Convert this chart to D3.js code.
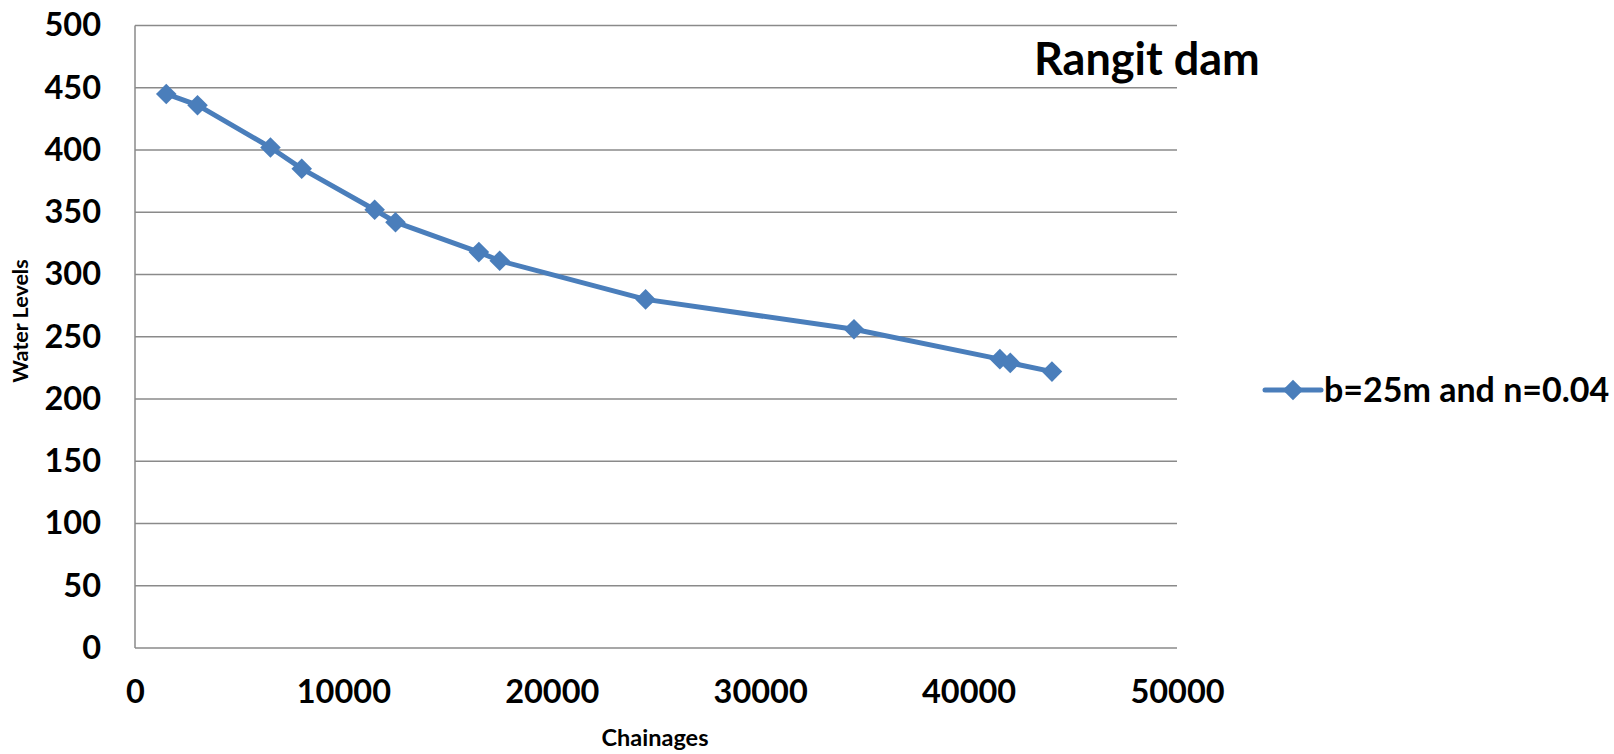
<!DOCTYPE html>
<html>
  <head>
    <meta charset="utf-8" />
    <script src="https://d3js.org/d3.v7.min.js"></script>
    <style>
      body { margin: 0; background: #fff; }
      svg text { font-family: Lato, "Open Sans", sans-serif; font-weight: 700; fill: #000; }
      .grid line { stroke: #8a8a8a; stroke-width: 1.5px; }
      .axis path, .axis line { display: none; }
      .axis text { font-size: 32.5px; }
    </style>
  </head>
  <body>
    <svg id="chart" width="1614" height="754"></svg>
    <script>
      // chainage (m) and water level
      const chainages = [1500, 3000, 6500, 8000, 11500, 12500, 16500, 17500, 24500, 34500, 41500, 42000, 44000];
      const levels = [445, 436, 402, 385, 352, 342, 318, 311, 280, 256, 232, 229, 222];
      const xTicks = [0, 10000, 20000, 30000, 40000, 50000];
      const yTicks = [0, 50, 100, 150, 200, 250, 300, 350, 400, 450, 500];
      const seriesName = "b=25m and n=0.04";

      const svg = d3.select("#chart");
      const plotLeft = 135, plotRight = 1177, plotTop = 25.5, plotBottom = 648;
      const blue = "#4a7ebb";

      const x = d3.scaleLinear().domain([0, 50000]).range([plotLeft, plotRight]);
      const y = d3.scaleLinear().domain([0, 500]).range([plotBottom, plotTop]);

      // horizontal gridlines
      svg.append("g")
        .attr("class", "grid")
        .selectAll("line")
        .data(yTicks)
        .join("line")
        .attr("x1", plotLeft)
        .attr("x2", plotRight)
        .attr("y1", (d) => y(d))
        .attr("y2", (d) => y(d));

      // vertical axis line
      svg.append("line")
        .attr("x1", plotLeft).attr("x2", plotLeft)
        .attr("y1", plotTop).attr("y2", plotBottom)
        .attr("stroke", "#8a8a8a").attr("stroke-width", 1.5);

      svg.append("g")
        .attr("class", "axis")
        .attr("transform", `translate(${plotLeft},0)`)
        .call(d3.axisLeft(y).tickValues(yTicks).tickSize(0).tickPadding(34));

      svg.append("g")
        .attr("class", "axis")
        .attr("transform", `translate(0,${plotBottom})`)
        .call(d3.axisBottom(x).tickValues(xTicks).tickSize(0).tickPadding(32).tickFormat(d3.format("d")));

      // axis titles
      svg.append("text")
        .text("Water Levels")
        .attr("font-size", 21.5)
        .attr("text-anchor", "middle")
        .attr("transform", "translate(28,321) rotate(-90)");
      svg.append("text")
        .text("Chainages")
        .attr("font-size", 23.5)
        .attr("text-anchor", "middle")
        .attr("x", 655)
        .attr("y", 746);

      // title
      svg.append("text")
        .text("Rangit dam")
        .attr("font-size", 45)
        .attr("x", 1034)
        .attr("y", 75);

      const pts = chainages.map((c, i) => [c, levels[i]]);
      const diamond = d3.symbol().type(d3.symbolDiamond2).size(270);

      svg.append("path")
        .datum(pts)
        .attr("fill", "none")
        .attr("stroke", blue)
        .attr("stroke-width", 5)
        .attr("stroke-linejoin", "round")
        .attr("d", d3.line().x((d) => x(d[0])).y((d) => y(d[1])));

      svg.append("g")
        .selectAll("path")
        .data(pts)
        .join("path")
        .attr("transform", (d) => `translate(${x(d[0])},${y(d[1])})`)
        .attr("d", diamond)
        .attr("fill", blue);

      // legend
      const lg = svg.append("g").attr("transform", "translate(1265,390)");
      lg.append("line")
        .attr("x1", 0).attr("x2", 56)
        .attr("stroke", blue).attr("stroke-width", 5).attr("stroke-linecap", "round");
      lg.append("path")
        .attr("transform", "translate(28,0)")
        .attr("d", diamond)
        .attr("fill", blue);
      lg.append("text")
        .text(seriesName)
        .attr("font-size", 34)
        .attr("x", 59)
        .attr("y", 12);
    </script>
  </body>
</html>
